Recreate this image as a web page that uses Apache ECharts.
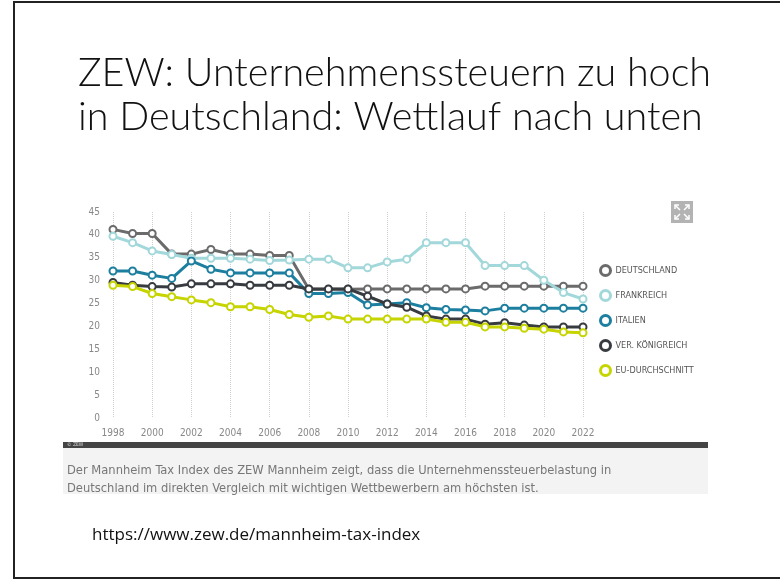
<!DOCTYPE html>
<html>
<head>
<meta charset="utf-8">
<script src="https://cdn.jsdelivr.net/npm/echarts@6/dist/echarts.min.js"></script>
<style>
  html, body { margin: 0; padding: 0; background: #fff; }
  #main { width: 780px; height: 580px; }
</style>
</head>
<body>
<div id="main"></div>
<script>
// Jahre (x-Achse)
var years = ['1998','1999','2000','2001','2002','2003','2004','2005','2006','2007','2008','2009','2010',
             '2011','2012','2013','2014','2015','2016','2017','2018','2019','2020','2021','2022'];

// Werte aus dem Mannheim Tax Index
var deutschland = [41.2,40.3,40.3,35.8,35.8,36.8,35.8,35.8,35.5,35.5,28.1,28.1,28.1,
                   28.2,28.2,28.2,28.2,28.2,28.2,28.8,28.8,28.8,28.8,28.8,28.8];
var frankreich  = [39.7,38.3,36.5,35.7,34.9,34.9,34.9,34.7,34.4,34.5,34.7,34.7,32.8,
                   32.8,34.1,34.7,38.3,38.3,38.3,33.3,33.3,33.3,30.1,27.4,26.0];
var italien     = [32.1,32.1,31.2,30.5,34.3,32.5,31.7,31.7,31.7,31.7,27.2,27.2,27.4,
                   24.7,24.9,25.2,24.1,23.7,23.6,23.4,24.0,24.0,24.0,24.0,24.0];
var verKoenig   = [29.6,29.0,28.7,28.6,29.3,29.3,29.3,29.0,29.0,29.0,28.2,28.2,28.2,
                   26.6,24.9,24.2,22.3,21.6,21.6,20.5,20.8,20.3,19.9,19.9,19.9];
var euSchnitt   = [29.0,28.7,27.2,26.5,25.8,25.2,24.3,24.3,23.7,22.6,22.0,22.3,21.6,
                   21.6,21.6,21.6,21.6,20.9,20.9,19.9,19.9,19.6,19.4,18.8,18.6];

var names  = ['DEUTSCHLAND','FRANKREICH','ITALIEN','VER. KÖNIGREICH','EU-DURCHSCHNITT'];
var colors = ['#6b6b6b','#a3d8db','#1d7f9f','#383c40','#c6d400'];
var values = [deutschland, frankreich, italien, verKoenig, euSchnitt];

var chartFont = '"Liberation Sans Narrow", "DejaVu Sans Condensed", sans-serif';

function makeSeries(i) {
    return {
        name: names[i],
        type: 'line',
        data: values[i],
        symbol: 'circle',
        symbolSize: 7,
        showAllSymbol: true,
        lineStyle: { color: colors[i], width: 3 },
        itemStyle: { color: '#fff', borderColor: colors[i], borderWidth: 2 },
        emphasis: { disabled: true },
        z: 2 + i
    };
}

var myecharts = echarts.init(document.getElementById('main'));
var option = {
    animation: false,
    backgroundColor: '#fff',
    grid: { left: 113, right: 197, top: 212, bottom: 162 },
    legend: {
        orient: 'vertical',
        left: 599,
        top: 264,
        padding: 0,
        itemWidth: 10,
        itemHeight: 10,
        itemGap: 12,
        icon: 'circle',
        itemStyle: { borderWidth: 3 },
        textStyle: { color: '#555', fontSize: 9, fontFamily: chartFont, letterSpacing: 0.8 },
        data: names
    },
    xAxis: {
        type: 'category',
        boundaryGap: false,
        data: years,
        axisLine: { show: false },
        axisTick: { show: false },
        axisLabel: { interval: 1, color: '#888', fontSize: 10, fontFamily: chartFont, margin: 10 },
        splitLine: { show: true, interval: 1, lineStyle: { color: '#cfcfcf', type: 'dotted', width: 1 } }
    },
    yAxis: {
        type: 'value',
        min: 0,
        max: 45,
        interval: 5,
        axisLine: { show: false },
        axisTick: { show: false },
        splitLine: { show: false },
        axisLabel: { color: '#888', fontSize: 10, fontFamily: chartFont, margin: 13 }
    },
    series: [0, 1, 2, 3, 4].map(makeSeries),
    graphic: [
        // Folienrahmen
        { type: 'rect', shape: { x: 14, y: 2, width: 800, height: 576 },
          style: { fill: 'none', stroke: '#222', lineWidth: 2 }, silent: true },
        // Titel
        { type: 'text', left: 78, top: 53,
          style: { text: 'ZEW: Unternehmenssteuern zu hoch', fill: '#111',
                   font: '300 39.5px Lato, "Open Sans", sans-serif' } },
        { type: 'text', left: 78, top: 97,
          style: { text: 'in Deutschland: Wettlauf nach unten', fill: '#111',
                   font: '300 39.5px Lato, "Open Sans", sans-serif' } },
        // Vergrößern-Symbol
        { type: 'rect', shape: { x: 671, y: 201, width: 22, height: 22 }, style: { fill: '#b3b3b3' } },
        { type: 'polyline', shape: { points: [[675, 205], [680, 210]] }, style: { stroke: '#fff', lineWidth: 1.5 } },
        { type: 'polyline', shape: { points: [[689, 205], [684, 210]] }, style: { stroke: '#fff', lineWidth: 1.5 } },
        { type: 'polyline', shape: { points: [[675, 219], [680, 214]] }, style: { stroke: '#fff', lineWidth: 1.5 } },
        { type: 'polyline', shape: { points: [[689, 219], [684, 214]] }, style: { stroke: '#fff', lineWidth: 1.5 } },
        { type: 'polyline', shape: { points: [[675, 209], [675, 205], [679, 205]] }, style: { stroke: '#fff', fill: 'none', lineWidth: 1.5 } },
        { type: 'polyline', shape: { points: [[685, 205], [689, 205], [689, 209]] }, style: { stroke: '#fff', fill: 'none', lineWidth: 1.5 } },
        { type: 'polyline', shape: { points: [[675, 215], [675, 219], [679, 219]] }, style: { stroke: '#fff', fill: 'none', lineWidth: 1.5 } },
        { type: 'polyline', shape: { points: [[685, 219], [689, 219], [689, 215]] }, style: { stroke: '#fff', fill: 'none', lineWidth: 1.5 } },
        // dunkler Balken mit © ZEW
        { type: 'rect', shape: { x: 63, y: 442, width: 645, height: 6 }, style: { fill: '#444' } },
        { type: 'text', left: 67, top: 442,
          style: { text: '© ZEW', fill: '#ddd', font: '5px ' + chartFont } },
        // Bildunterschrift
        { type: 'rect', shape: { x: 63, y: 448, width: 645, height: 46 }, style: { fill: '#f3f3f3' } },
        { type: 'text', left: 67, top: 462,
          style: { text: 'Der Mannheim Tax Index des ZEW Mannheim zeigt, dass die Unternehmenssteuerbelastung in\nDeutschland im direkten Vergleich mit wichtigen Wettbewerbern am höchsten ist.',
                   fill: '#777', lineHeight: 18, font: '12.8px ' + chartFont } },
        // Quelle
        { type: 'text', left: 92, top: 527,
          style: { text: 'https://www.zew.de/mannheim-tax-index', fill: '#111',
                   font: '17px "Open Sans", Lato, sans-serif' } }
    ]
};
myecharts.setOption(option);
</script>
</body>
</html>
